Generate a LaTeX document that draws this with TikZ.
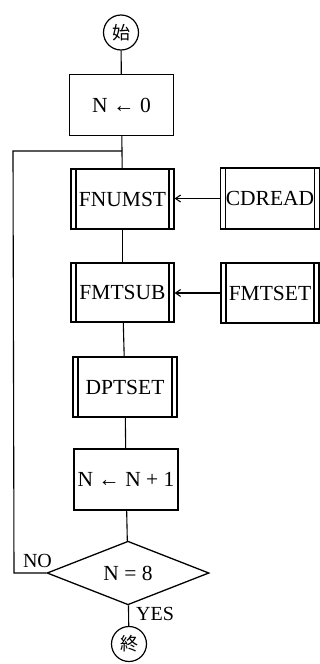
\documentclass[tikz,border=0pt]{standalone}
\usepackage{fontspec}
\setmainfont{Liberation Serif}
\newfontfamily\cjk{Noto Sans CJK JP}
\usetikzlibrary{shapes.geometric,arrows.meta}
\begin{document}
\begin{tikzpicture}[x=1pt,y=-1pt,
  line/.style={line width=1.1pt},
  box/.style={draw,line width=1.3pt,rectangle,inner sep=0pt,font=\fontsize{21.5}{21.5}\selectfont},
  pp/.style={box,path picture={
     \draw[line width=1.2pt] ([xshift=5pt]path picture bounding box.north west) -- ([xshift=5pt]path picture bounding box.south west);
     \draw[line width=1.6pt] ([xshift=-5pt]path picture bounding box.north east) -- ([xshift=-5pt]path picture bounding box.south east);}},
  term/.style={draw,circle,line width=1.2pt,minimum size=35pt,inner sep=0pt,font=\cjk\fontsize{18}{18}\selectfont},
  dec/.style={draw,diamond,line width=1.3pt,inner sep=0pt,minimum width=162pt,minimum height=59pt,font=\fontsize{21.5}{21.5}\selectfont},
  lbl/.style={inner sep=0pt,font=\fontsize{20}{20}\selectfont},
  arr/.style={line,-{Straight Barb[length=5pt,width=7pt]}}]
\useasboundingbox (0,0) rectangle (320,664);
\node[term] (start) at (121,32.5) {始};
\node[box,minimum width=104pt,minimum height=61pt] (n0) at (121.5,105) {N ← 0};
\node[pp,minimum width=103pt,minimum height=60pt] (fnumst) at (122.5,199) {FNUMST};
\node[pp,minimum width=99pt,minimum height=61pt] (cdread) at (270,198.5) {CDREAD};
\node[pp,minimum width=103pt,minimum height=59pt] (fmtsub) at (122.5,292.5) {FMTSUB};
\node[pp,minimum width=98pt,minimum height=60pt] (fmtset) at (270,293) {FMTSET};
\node[pp,minimum width=104pt,minimum height=60pt] (dptset) at (125,387) {DPTSET};
\node[box,minimum width=104pt,minimum height=61pt] (nn1) at (126,479.5) {N ← N + 1};
\node[dec] (dia) at (128,573) {N = 8};
\node[term] (stop) at (129,644) {終};
\node[lbl] (no) at (37.5,561) {NO};
\node[lbl] (yes) at (155,614) {YES};
\coordinate (join) at (122,151);
\coordinate (lb) at (14,573);
\coordinate (lt) at (13,151);
\draw[line] (start) -- (n0);
\draw[line] (n0) -- (fnumst);
\draw[line] (fnumst) -- (fmtsub);
\draw[line] (fmtsub) -- (dptset);
\draw[line] (dptset) -- (nn1);
\draw[line] (nn1) -- (dia);
\draw[line] (dia) -- (stop);
\draw[line] (dia.west) -- (lb) -- (lt) -- (join);
\draw[arr] (cdread.west) -- (fnumst.east |- cdread.west);
\draw[arr] (fmtset.west) -- (fmtsub.east |- fmtset.west);
\end{tikzpicture}
\end{document}
